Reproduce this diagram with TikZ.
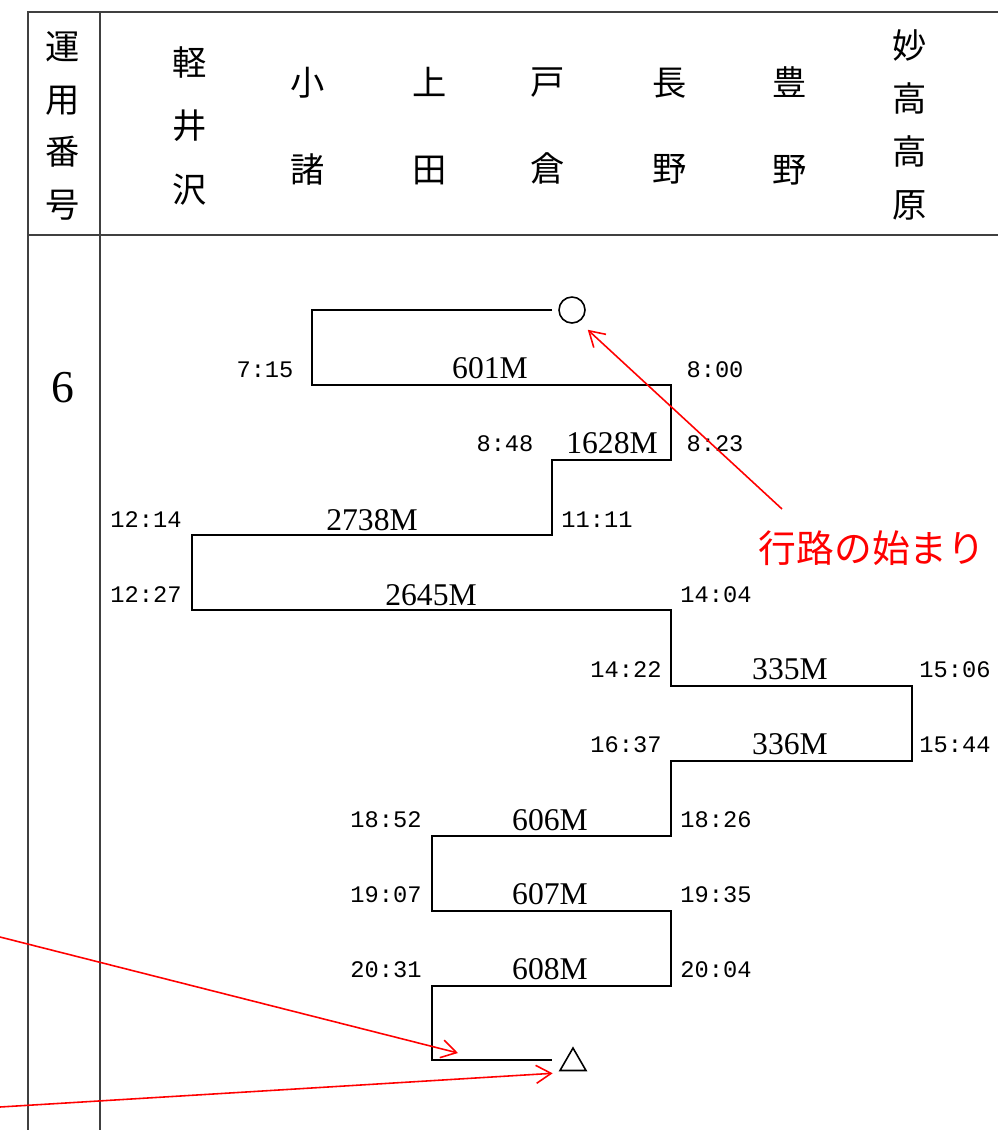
\documentclass[tikz,border=0pt]{standalone}
\usepackage{fontspec}
\setmainfont{Liberation Serif}
\newfontfamily\jpfont{Noto Sans CJK JP}
\newfontfamily\timefont{Liberation Mono}
\usetikzlibrary{arrows.meta, shapes.geometric, calc}

\tikzset{
  frame/.style={line width=1.3pt, draw=black!75},
  route/.style={line width=1pt},
  hdr/.style={align=center, inner sep=0pt},
  timelbl/.style={font=\timefont\fontsize{13.5}{13.5}\selectfont, inner sep=0pt},
  trainlbl/.style={font=\fontsize{18}{18}\selectfont, inner sep=0pt},
  note/.style={red, line width=0.9pt, -{Straight Barb[length=3mm,width=3.6mm]}},
}

\begin{document}
\begin{tikzpicture}[x=0.02cm, y=-0.02cm]
	\useasboundingbox (0,0) rectangle (998,1130);
	
	% table frame
	\draw[frame] (28,1130) -- (28,12) -- (998,12);
	\draw[frame] (100,12) -- (100,1130);
	\draw[frame] (28,235) -- (998,235);
	
	% header
	\node[hdr, font=\jpfont\fontsize{19.5}{30}\selectfont] (unyo) at (63,126) {運\\用\\番\\号};
	\node[hdr, font=\jpfont\fontsize{19.5}{36.3}\selectfont] (karuizawa) at (190,126) {軽\\井\\沢};
	\node[hdr, font=\jpfont\fontsize{19.5}{49.3}\selectfont] (komoro) at (308,126) {小\\諸};
	\node[hdr, font=\jpfont\fontsize{19.5}{49.3}\selectfont] (ueda) at (430,126) {上\\田};
	\node[hdr, font=\jpfont\fontsize{19.5}{49.3}\selectfont] (togura) at (548,126) {戸\\倉};
	\node[hdr, font=\jpfont\fontsize{19.5}{49.3}\selectfont] (nagano) at (670,126) {長\\野};
	\node[hdr, font=\jpfont\fontsize{19.5}{49.3}\selectfont] (toyono) at (790,126) {豊\\野};
	\node[hdr, font=\jpfont\fontsize{19.5}{30}\selectfont] (myoko) at (910,125) {妙\\高\\高\\原};
	
	\node[font=\fontsize{26}{26}\selectfont] (num) at (63,388) {6};
	
	% route
	\node[draw, circle, line width=0.9pt, minimum size=0.52cm, inner sep=0pt] (start) at (572,310) {};
	\node[draw, regular polygon, regular polygon sides=3, line width=0.9pt, minimum size=0.6cm, inner sep=0pt] (finish) at (573,1063) {};
	\coordinate (first) at (552,310);
	\coordinate (last) at (432,1060);
	\draw[route] (first) -- (312,310) -- (312,385) -- (671,385) -- (671,460)
		-- (552,460) -- (552,535) -- (192,535) -- (192,610) -- (671,610)
		-- (671,686) -- (912,686) -- (912,761) -- (671,761) -- (671,836)
		-- (432,836) -- (432,911) -- (671,911) -- (671,986) -- (432,986)
		-- (last) -- (552,1060);
	
	% times and trains
	\node[timelbl] (t1) at (265,370) {7:15};
	\node[trainlbl] (r1) at (490,368) {601M};
	\node[timelbl] (t2) at (715,370) {8:00};
	\node[timelbl] (t3) at (505,444) {8:48};
	\node[trainlbl] (r2) at (612,443) {1628M};
	\node[timelbl] (t4) at (715,444) {8:23};
	\node[timelbl] (t5) at (146,520) {12:14};
	\node[trainlbl] (r3) at (372,520) {2738M};
	\node[timelbl] (t6) at (597,520) {11:11};
	\node[timelbl] (t7) at (146,595) {12:27};
	\node[trainlbl] (r4) at (431,595) {2645M};
	\node[timelbl] (t8) at (716,595) {14:04};
	\node[timelbl] (t9) at (626,670) {14:22};
	\node[trainlbl] (r5) at (790,669) {335M};
	\node[timelbl] (t10) at (955,670) {15:06};
	\node[timelbl] (t11) at (626,745) {16:37};
	\node[trainlbl] (r6) at (790,744) {336M};
	\node[timelbl] (t12) at (955,745) {15:44};
	\node[timelbl] (t13) at (386,820) {18:52};
	\node[trainlbl] (r7) at (550,820) {606M};
	\node[timelbl] (t14) at (716,820) {18:26};
	\node[timelbl] (t15) at (386,895) {19:07};
	\node[trainlbl] (r8) at (550,894) {607M};
	\node[timelbl] (t16) at (716,895) {19:35};
	\node[timelbl] (t17) at (386,970) {20:31};
	\node[trainlbl] (r9) at (550,969) {608M};
	\node[timelbl] (t18) at (716,970) {20:04};
	
	% notes
	\node[red, font=\jpfont\fontsize{21.5}{21.5}\selectfont, inner sep=0pt] (begin) at (872,548) {行路の始まり};
	\coordinate (n1) at (782,509);
	\coordinate (n2) at (0,937);
	\coordinate (n3) at (0,1107);
	\draw[note] (n1) -- ($(start.south east)+(6,10)$);
	\draw[note] (n2) -- ($(last)+(26,-7)$);
	\draw[note] (n3) -- ($(finish.corner 2)+(-6,2)$);
\end{tikzpicture}
\end{document}
